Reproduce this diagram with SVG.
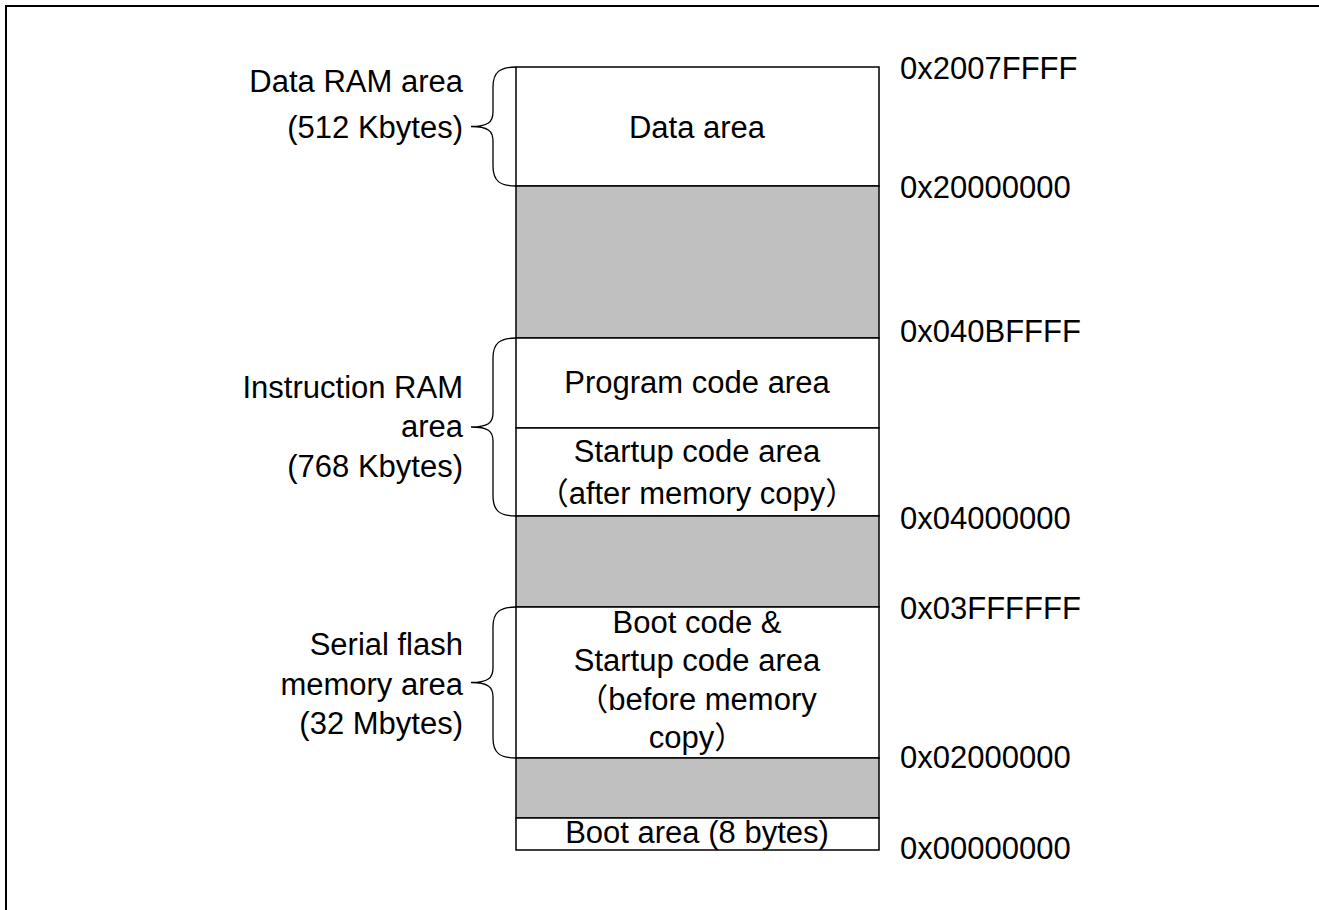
<svg xmlns="http://www.w3.org/2000/svg" width="1319" height="910" viewBox="0 0 1319 910">
<style>
text{font-family:"Liberation Sans",Arial,"Noto Sans CJK JP",sans-serif;font-size:31px;fill:#000}
.c{text-anchor:middle}
.r{text-anchor:end}
.cell{stroke:#000;stroke-width:1.5;fill:#fff}
.gray{stroke:#000;stroke-width:1.5;fill:#c0c0c0}
.brace{fill:none;stroke:#000;stroke-width:1.3}
</style>
<rect width="1319" height="910" fill="#fff"/>
<path d="M6 910 V6 H1319" fill="none" stroke="#000" stroke-width="2"/>
<g id="data-area"><rect class="cell" x="516" y="67" width="363" height="119"/><text class="c" x="697" y="138">Data area</text></g>
<g id="reserved-1"><rect class="gray" x="516" y="186" width="363" height="152"/></g>
<g id="program-code"><rect class="cell" x="516" y="338" width="363" height="90"/><text class="c" x="697" y="393">Program code area</text></g>
<g id="startup-after"><rect class="cell" x="516" y="428" width="363" height="88"/><text class="c" x="697" y="462">Startup code area</text><text class="c" x="697" y="504">（after memory copy）</text></g>
<g id="reserved-2"><rect class="gray" x="516" y="516" width="363" height="91"/></g>
<g id="boot-code"><rect class="cell" x="516" y="607" width="363" height="151"/><text class="c" x="697" y="633">Boot code &amp;</text><text class="c" x="697" y="671">Startup code area</text><text class="c" x="697" y="710">（before memory</text><text class="c" x="697" y="748">copy）</text></g>
<g id="reserved-3"><rect class="gray" x="516" y="758" width="363" height="60"/></g>
<g id="boot-area"><rect class="cell" x="516" y="818" width="363" height="32"/><text class="c" x="697" y="843">Boot area (8 bytes)</text></g>
<g id="addresses">
<text x="900" y="79">0x2007FFFF</text>
<text x="900" y="198">0x20000000</text>
<text x="900" y="342">0x040BFFFF</text>
<text x="900" y="529">0x04000000</text>
<text x="900" y="619">0x03FFFFFF</text>
<text x="900" y="768">0x02000000</text>
<text x="900" y="859">0x00000000</text>
</g>
<g id="data-ram-label"><text class="r" x="463" y="92">Data RAM area</text><text class="r" x="463" y="138">(512 Kbytes)</text></g>
<g id="instr-ram-label"><text class="r" x="463" y="398">Instruction RAM</text><text class="r" x="463" y="437">area</text><text class="r" x="463" y="477">(768 Kbytes)</text></g>
<g id="flash-label"><text class="r" x="463" y="655">Serial flash</text><text class="r" x="463" y="695">memory area</text><text class="r" x="463" y="734">(32 Mbytes)</text></g>
<g id="braces">
<path class="brace" d="M516 67 C500 67 493 72 493 87 L493 112 C493 122 488 126.5 471 126.5 C488 126.5 493 131 493 141 L493 166 C493 181 500 186 516 186"/>
<path class="brace" d="M516 338 C500 338 493 343 493 358 L493 413 C493 423 488 427 471 427 C488 427 493 431 493 441 L493 496 C493 511 500 516 516 516"/>
<path class="brace" d="M516 607 C500 607 493 612 493 627 L493 668 C493 678 488 682.5 471 682.5 C488 682.5 493 687 493 697 L493 738 C493 753 500 758 516 758"/>
</g>
</svg>
